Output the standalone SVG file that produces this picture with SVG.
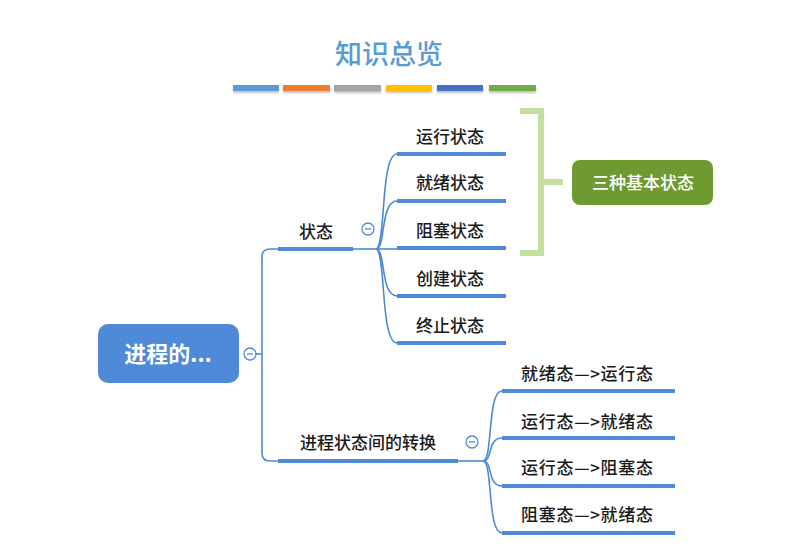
<svg xmlns="http://www.w3.org/2000/svg" width="798" height="550" viewBox="0 0 798 550">
<defs>
<style>
.t{font-family:"Noto Sans CJK SC","Noto Sans",sans-serif;font-size:17px;font-weight:500;fill:#1a1a1a;}
.thin{fill:none;stroke:#4f8ad9;stroke-width:1.6;}
.bar{stroke:#4f8ad9;stroke-width:4;}
.col{fill:#fff;stroke:#4f8ad9;stroke-width:1.3;}
.minus{stroke:#4f8ad9;stroke-width:1.3;}
</style>
<filter id="sh" x="-10%" y="-50%" width="120%" height="250%"><feDropShadow dx="0" dy="2" stdDeviation="1.2" flood-color="#000" flood-opacity="0.25"/></filter>
</defs>
<rect width="798" height="550" fill="#fff"/>
<g id="title">
<text x="389" y="64" text-anchor="middle" style="font-family:'Noto Sans CJK SC',sans-serif;font-size:27px;font-weight:500;fill:#5b9bd5;">知识总览</text>
<g filter="url(#sh)">
<rect x="233" y="85" width="46" height="6" fill="#5b9bd5"/>
<rect x="283" y="85" width="47" height="6" fill="#ed7d31"/>
<rect x="334" y="85" width="47" height="6" fill="#a5a5a5"/>
<rect x="386" y="85" width="46" height="6" fill="#ffc000"/>
<rect x="437" y="85" width="46" height="6" fill="#4472c4"/>
<rect x="489" y="85" width="47" height="6" fill="#70ad47"/>
</g>
</g>
<g id="connectors">
<path class="thin" d="M256,354 H262"/>
<path class="thin" d="M278,249 H270 Q262,249 262,257 V453 Q262,461 270,461 H278"/>
<path class="thin" d="M353,249 H376"/>
<path class="thin" d="M376,249 C386,249 380,154 397,154"/>
<path class="thin" d="M376,249 C386,249 380,201 397,201"/>
<path class="thin" d="M376,249 H397"/>
<path class="thin" d="M376,249 C386,249 380,296 397,296"/>
<path class="thin" d="M376,249 C386,249 380,343 397,343"/>
<path class="thin" d="M458,461 H483"/>
<path class="thin" d="M483,461 C493,461 487,391 502,391"/>
<path class="thin" d="M483,461 C493,461 487,438 502,438"/>
<path class="thin" d="M483,461 C493,461 487,486 502,486"/>
<path class="thin" d="M483,461 C493,461 487,533 502,533"/>
</g>
<g id="root">
<rect x="98" y="324" width="141" height="59" rx="10" fill="#4f8ad9"/>
<text x="168" y="362" text-anchor="middle" style="font-family:'Noto Sans CJK SC',sans-serif;font-size:22px;font-weight:bold;fill:#fff;">进程的...</text>
<circle class="col" cx="250" cy="354" r="6"/><path class="minus" d="M247,354 H253"/>
</g>
<g id="n-state">
<line class="bar" x1="278" y1="249" x2="353" y2="249"/>
<text class="t" x="316" y="238" text-anchor="middle">状态</text>
<circle class="col" cx="368" cy="229" r="6"/><path class="minus" d="M365,229 H371"/>
</g>
<g id="n-run"><line class="bar" x1="397" y1="154" x2="506" y2="154"/><text class="t" x="450" y="143" text-anchor="middle">运行状态</text></g>
<g id="n-ready"><line class="bar" x1="397" y1="201" x2="506" y2="201"/><text class="t" x="450" y="189" text-anchor="middle">就绪状态</text></g>
<g id="n-block"><line class="bar" x1="397" y1="248" x2="506" y2="248"/><text class="t" x="450" y="237" text-anchor="middle">阻塞状态</text></g>
<g id="n-create"><line class="bar" x1="397" y1="296" x2="506" y2="296"/><text class="t" x="450" y="285" text-anchor="middle">创建状态</text></g>
<g id="n-end"><line class="bar" x1="397" y1="343" x2="506" y2="343"/><text class="t" x="450" y="332" text-anchor="middle">终止状态</text></g>
<g id="bracket">
<path d="M520,111 H541 V253 H520 M541,182 H563" fill="none" stroke="#c3de9e" stroke-width="6"/>
</g>
<g id="n-three">
<rect x="572" y="160" width="141" height="45" rx="8" fill="#6f9a32"/>
<text x="643" y="189" text-anchor="middle" style="font-family:'Noto Sans CJK SC',sans-serif;font-size:17px;font-weight:500;fill:#fff;">三种基本状态</text>
</g>
<g id="n-trans">
<line class="bar" x1="278" y1="461" x2="458" y2="461"/>
<text class="t" x="368" y="449" text-anchor="middle">进程状态间的转换</text>
<circle class="col" cx="472" cy="442" r="6"/><path class="minus" d="M469,442 H475"/>
</g>
<g id="t1"><line class="bar" x1="502" y1="391" x2="675" y2="391"/><text class="t" x="521" y="380" textLength="132" lengthAdjust="spacing">就绪态—&gt;运行态</text></g>
<g id="t2"><line class="bar" x1="502" y1="438" x2="675" y2="438"/><text class="t" x="521" y="428" textLength="132" lengthAdjust="spacing">运行态—&gt;就绪态</text></g>
<g id="t3"><line class="bar" x1="502" y1="486" x2="675" y2="486"/><text class="t" x="521" y="474" textLength="132" lengthAdjust="spacing">运行态—&gt;阻塞态</text></g>
<g id="t4"><line class="bar" x1="502" y1="533" x2="675" y2="533"/><text class="t" x="521" y="521" textLength="132" lengthAdjust="spacing">阻塞态—&gt;就绪态</text></g>
</svg>
